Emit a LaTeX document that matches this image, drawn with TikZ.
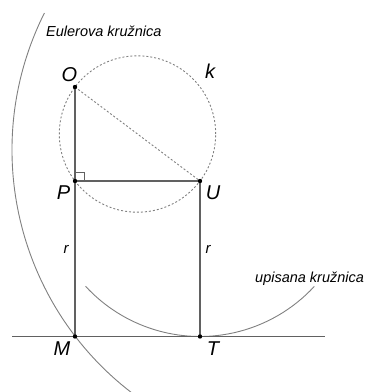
\documentclass[tikz,border=0pt]{standalone}
\usepackage{fontspec}
\setmainfont{Liberation Sans}
\begin{document}
\begin{tikzpicture}[x=1pt,y=1pt,
  seg/.style={draw=black!62,line width=1.3pt},
  thinarc/.style={draw=black!50,line width=0.9pt},
  dotted circ/.style={draw=black!50,line width=0.9pt,dash pattern=on 2pt off 2pt},
  pt/.style={circle,fill=black,inner sep=0pt,minimum size=4.4pt},
  lab/.style={inner sep=0pt,font=\fontsize{20}{23}\selectfont\itshape},
  smalllab/.style={inner sep=0pt,font=\fontsize{14.5}{17}\selectfont\itshape},
  rlab/.style={inner sep=0pt,font=\fontsize{15}{18}\selectfont\itshape}]
\useasboundingbox (0,0) rectangle (365,392);
% coordinates
\coordinate (O) at (75,305);
\coordinate (P) at (75,211);
\coordinate (U) at (200,211);
\coordinate (M) at (75,55.5);
\coordinate (T) at (200,55.5);
\coordinate (L) at (12,55.5);
\coordinate (R) at (325,55.5);
\coordinate (K) at (137.5,258);
\coordinate (E) at (318,242);
% Euler circle arc (clipped)
\begin{scope}
\clip (0,0) rectangle (365,392);
\draw[thinarc] (E) ++(153.4:306) arc[start angle=153.4,end angle=236,radius=306];
\end{scope}
% inscribed circle arc
\draw[thinarc] (U) ++(222.6:155.5) arc[start angle=222.6,end angle=317.3,radius=155.5];
% dashed circle k
\draw[dotted circ] (K) circle[radius=78.2];
\draw[dotted circ] (O) -- (U);
% tangent line
\draw[seg] (L) -- (R);
% segments
\draw[seg] (O) -- (P);
\draw[seg] (P) -- (M);
\draw[seg] (P) -- (U);
\draw[seg] (U) -- (T);
% right angle mark
\draw[draw=black!62,line width=0.8pt] ([yshift=9pt]P) -- ++(9,0) -- ++(0,-9);
% points
\node[pt] (dO) at (O) {};
\node[pt] (dP) at (P) {};
\node[pt] (dU) at (U) {};
\node[pt] (dM) at (M) {};
\node[pt] (dT) at (T) {};
% labels
\node[smalllab,anchor=base west] (euler) at (46,355) {Eulerova kružnica};
\node[smalllab,anchor=base west] (ups) at (255,110) {upisana kružnica};
\node[lab] (lO) at (69.5,317.5) {O};
\node[lab] (lk) at (210,321) {k};
\node[lab] (lP) at (63.5,199.5) {P};
\node[lab] (lU) at (213,199.5) {U};
\node[lab] (lM) at (62,43) {M};
\node[lab] (lT) at (213,43) {T};
\node[rlab] (r1) at (66,142.5) {r};
\node[rlab] (r2) at (208,142.5) {r};
\end{tikzpicture}
\end{document}
